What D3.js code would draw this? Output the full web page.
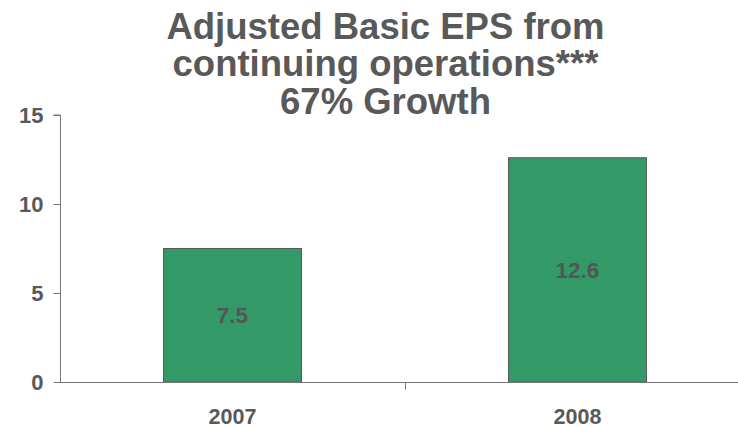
<!DOCTYPE html>
<html>
<head>
<meta charset="utf-8">
<script src="https://cdn.jsdelivr.net/npm/d3@7"></script>
<style>
  html, body { margin: 0; padding: 0; background: #fff; }
  svg { display: block; font-family: "Liberation Sans", Arial, sans-serif; }
</style>
</head>
<body>
<svg id="chart" width="738" height="427"></svg>
<script>
// Adjusted basic EPS by year
const years = ["2007", "2008"];
const eps = [7.5, 12.6];
const yTicks = [0, 5, 10, 15];
const titleLines = ["Adjusted Basic EPS from", "continuing operations***", "67% Growth"];

const svg = d3.select("#chart");
const textColor = "#595959";
const axisColor = "#777";

const x = d3.scaleBand().domain(years).range([60, 750]).paddingInner(0).paddingOuter(0);
const y = d3.scaleLinear().domain([0, 15]).range([382, 115]);
const barW = x.bandwidth() * 0.4;

// Bars
svg.selectAll("rect.bar").data(years).join("rect")
  .attr("class", "bar")
  .attr("x", (d) => x(d) + (x.bandwidth() - barW) / 2)
  .attr("width", barW)
  .attr("y", (d, i) => y(eps[i]))
  .attr("height", (d, i) => y(0) - y(eps[i]))
  .attr("fill", "#339966")
  .attr("stroke", "#5a5a5a")
  .attr("stroke-width", 1);

// Value labels centred in the bars
svg.selectAll("text.val").data(years).join("text")
  .attr("class", "val")
  .attr("x", (d) => x(d) + x.bandwidth() / 2)
  .attr("y", (d, i) => (y(eps[i]) + y(0)) / 2)
  .attr("dy", "0.36em")
  .attr("text-anchor", "middle")
  .attr("font-size", 22.5)
  .attr("font-weight", "bold")
  .attr("fill", "#555")
  .text((d, i) => eps[i].toFixed(1));

// Y axis
const yAxis = svg.append("g").attr("transform", "translate(60.5,0)")
  .call(d3.axisLeft(y).tickValues(yTicks).tickSize(7).tickPadding(10).tickFormat(d3.format("d")));
yAxis.select(".domain").attr("stroke", axisColor).attr("d", `M-7,${y(15)}H0V${y(0)}`);
yAxis.selectAll(".tick line").attr("stroke", axisColor);
yAxis.selectAll(".tick text")
  .attr("font-size", 22).attr("font-weight", "bold").attr("fill", textColor)
  .attr("font-family", "Liberation Sans, Arial, sans-serif");

// X axis: baseline with category boundary ticks
const xAxis = svg.append("g").attr("transform", `translate(0,${y(0) + 0.5})`);
xAxis.append("line").attr("x1", 60).attr("x2", 750).attr("stroke", axisColor);
xAxis.selectAll("line.sep").data(years.slice(1)).join("line")
  .attr("class", "sep")
  .attr("x1", (d) => x(d) + 0.5).attr("x2", (d) => x(d) + 0.5)
  .attr("y1", 0).attr("y2", 7)
  .attr("stroke", axisColor);
xAxis.selectAll("text").data(years).join("text")
  .attr("x", (d) => x(d) + x.bandwidth() / 2)
  .attr("y", 41)
  .attr("text-anchor", "middle")
  .attr("font-size", 21.5)
  .attr("font-weight", "bold")
  .attr("fill", textColor)
  .text((d) => d);

// Title
svg.append("text")
  .attr("x", 385.5)
  .attr("text-anchor", "middle")
  .attr("font-size", 36.5)
  .attr("font-weight", "bold")
  .attr("fill", textColor)
  .selectAll("tspan").data(titleLines).join("tspan")
  .attr("x", 385.5)
  .attr("y", (d, i) => 38.5 + i * 37.5)
  .text((d) => d);
</script>
</body>
</html>
